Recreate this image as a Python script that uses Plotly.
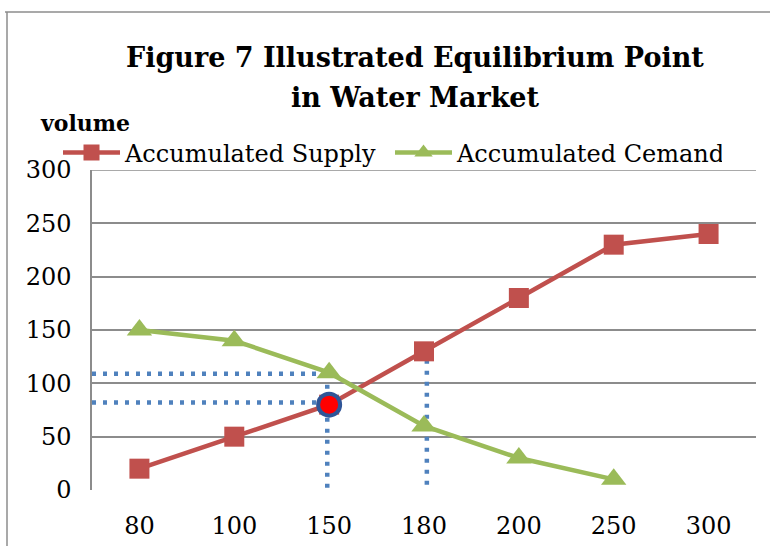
import plotly.graph_objects as go

# Price categories on the horizontal axis
prices = ["80", "100", "150", "180", "200", "250", "300"]
# Accumulated volumes
supply = [20, 50, 80, 130, 180, 230, 240]
demand = [150, 140, 110, 60, 30, 10, None]

# Guide lines marking the equilibrium reading
eq_price = "150"
eq_volume = 80
guide_upper = 109
guide_lower = 82
guide_180_top = 122
y_ticks = [0, 50, 100, 150, 200, 250, 300]

W, H = 770, 546
L, R, T, B = 92, 14, 170, 56
PW, PH = W - L - R, H - T - B


def px_x(p):
    return (p - L) / PW


def px_y(p):
    return (H - B - p) / PH


SERIF = "DejaVu Serif"
RED = "#C0504D"
GREEN = "#9BBB59"
BLUE = "#4F81BD"
GRID = "#8C8C8C"

fig = go.Figure()

fig.add_trace(go.Scatter(
    x=prices, y=supply, name="Accumulated Supply", mode="lines+markers",
    line=dict(color=RED, width=4.5),
    marker=dict(symbol="square", size=20, color=RED),
))
fig.add_trace(go.Scatter(
    x=prices, y=demand, name="Accumulated Cemand", mode="lines+markers",
    line=dict(color=GREEN, width=4.5),
    marker=dict(symbol="triangle-up", size=22, color=GREEN),
))
# Equilibrium point highlight
fig.add_trace(go.Scatter(
    x=[eq_price], y=[eq_volume], mode="markers", showlegend=False,
    marker=dict(symbol="circle", size=22, color="#FF0000",
                line=dict(color="#2F5597", width=4)),
))

dot = dict(color=BLUE, width=4.5, dash="4px,7px")
shapes = [
    # top gridline at the range edge
    dict(type="line", xref="paper", yref="y", x0=0, x1=1, y0=300, y1=300,
         line=dict(color=GRID, width=1.5), layer="between"),
    dict(type="line", xref="x", yref="y", x0=-0.5, x1=2, y0=guide_upper, y1=guide_upper,
         line=dot, layer="between"),
    dict(type="line", xref="x", yref="y", x0=-0.5, x1=2, y0=guide_lower, y1=guide_lower,
         line=dot, layer="between"),
    dict(type="line", xref="x", yref="y", x0=1.98, x1=1.98, y0=guide_upper, y1=2,
         line=dot, layer="between"),
    dict(type="line", xref="x", yref="y", x0=3.03, x1=3.03, y0=guide_180_top, y1=2,
         line=dot, layer="between"),
    # outer frame
    dict(type="line", xref="paper", yref="paper", x0=px_x(5), x1=px_x(772),
         y0=px_y(12), y1=px_y(12), line=dict(color=GRID, width=1.5)),
    dict(type="line", xref="paper", yref="paper", x0=px_x(7), x1=px_x(7),
         y0=px_y(12), y1=px_y(550), line=dict(color=GRID, width=1.5)),
]

annotations = [
    dict(text="<b>Figure 7 Illustrated Equilibrium Point</b>", xref="paper", yref="paper",
         x=px_x(415), y=px_y(57), xanchor="center", yanchor="middle", showarrow=False,
         font=dict(family=SERIF, size=27, color="black")),
    dict(text="<b>in Water Market</b>", xref="paper", yref="paper",
         x=px_x(415), y=px_y(97), xanchor="center", yanchor="middle", showarrow=False,
         font=dict(family=SERIF, size=27, color="black")),
    dict(text="<b>volume</b>", xref="paper", yref="paper",
         x=px_x(38), y=px_y(123), xanchor="left", yanchor="middle", showarrow=False,
         font=dict(family=SERIF, size=22, color="black")),
]

fig.update_layout(
    width=W, height=H,
    margin=dict(l=L, r=R, t=T, b=B, autoexpand=False),
    paper_bgcolor="white", plot_bgcolor="white",
    font=dict(family=SERIF, size=24, color="black"),
    shapes=shapes, annotations=annotations,
    legend=dict(orientation="h", x=px_x(58), y=px_y(153), xanchor="left", yanchor="middle",
                font=dict(family=SERIF, size=24, color="black"),
                bgcolor="rgba(0,0,0,0)", itemwidth=57, tracegroupgap=0,
                entrywidth=260, entrywidthmode="pixels"),
    showlegend=True,
)
fig.update_xaxes(type="category", categoryorder="array", categoryarray=prices,
                 showgrid=False, showline=False, ticks="", ticklabelstandoff=19,
                 tickfont=dict(family=SERIF, size=24, color="black"), automargin=False,
                 range=[-0.5, 6.5], zeroline=False, fixedrange=True)
fig.update_yaxes(range=[0, 300], tickvals=y_ticks, showgrid=True, gridcolor=GRID,
                 gridwidth=1.5, showline=True, linecolor=GRID, linewidth=1.5,
                 ticks="", ticklabelstandoff=14, zeroline=False, automargin=False,
                 tickfont=dict(family=SERIF, size=24, color="black"))

fig.write_html("out.html")
